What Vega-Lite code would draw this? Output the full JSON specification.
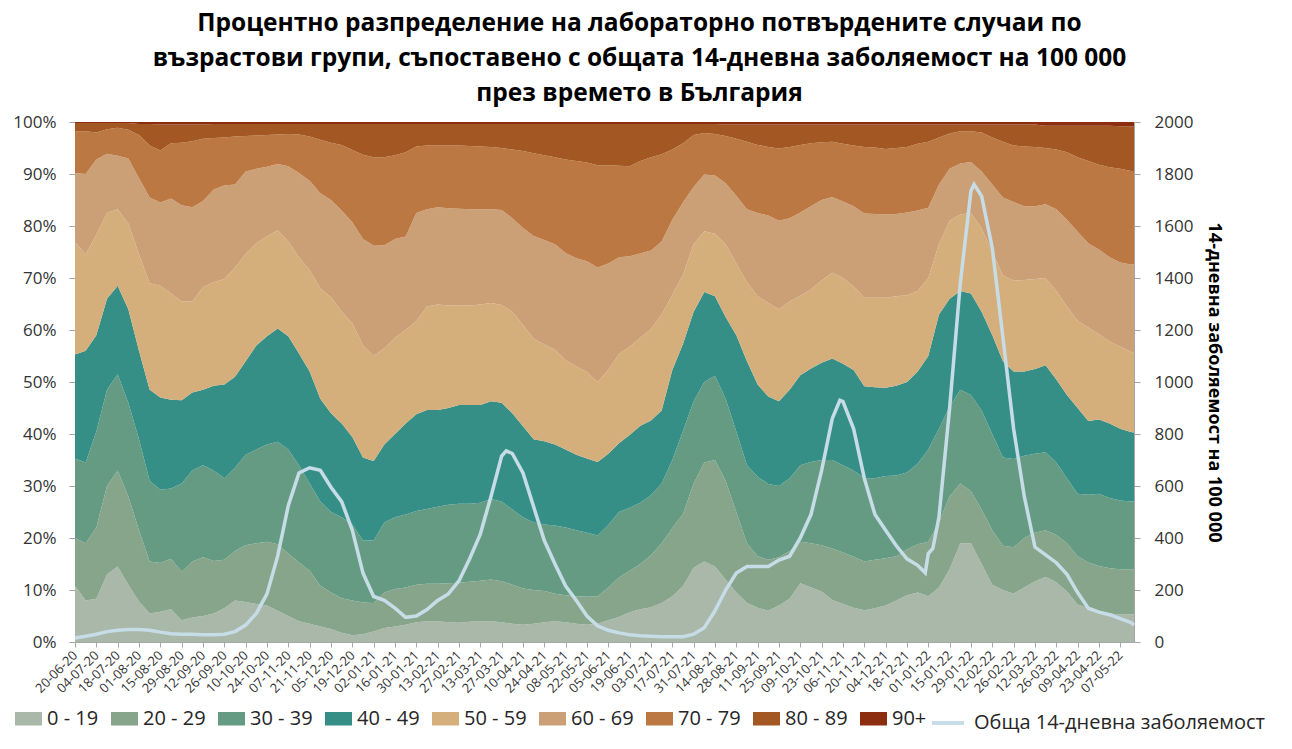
{
  "$schema": "https://vega.github.io/schema/vega-lite/v6.json",
  "width": 1059,
  "height": 520,
  "autosize": {"type": "none"},
  "padding": {"left": 75, "top": 122, "right": 158, "bottom": 107},
  "background": "white",
  "title": {
    "text": ["Процентно разпределение на лабораторно потвърдените случаи по", "възрастови групи, съпоставено с общата 14-дневна заболяемост на 100 000", "през времето в България"],
    "font": "Open Sans",
    "fontSize": 24.5,
    "fontWeight": "bold",
    "color": "#000000",
    "lineHeight": 35,
    "anchor": "middle",
    "frame": "group",
    "dx": 35,
    "offset": 7
  },
  "datasets": {
    "ages": [
      {"d":"2020-06-20","0 - 19":10.8,"20 - 29":9.2,"30 - 39":15.3,"40 - 49":20,"50 - 59":21.6,"60 - 69":13.3,"70 - 79":8,"80 - 89":1.6,"90+":0.2},
      {"d":"2020-06-27","0 - 19":8,"20 - 29":11,"30 - 39":15.5,"40 - 49":21.5,"50 - 59":18.5,"60 - 69":15.5,"70 - 79":8.2,"80 - 89":1.6,"90+":0.2},
      {"d":"2020-07-04","0 - 19":8.3,"20 - 29":13.7,"30 - 39":18.5,"40 - 49":18.5,"50 - 59":19.3,"60 - 69":14.5,"70 - 79":5.2,"80 - 89":1.8,"90+":0.2},
      {"d":"2020-07-11","0 - 19":13,"20 - 29":17,"30 - 39":18.5,"40 - 49":17.5,"50 - 59":16.5,"60 - 69":11.4,"70 - 79":4.7,"80 - 89":1.2,"90+":0.2},
      {"d":"2020-07-18","0 - 19":14.5,"20 - 29":18.5,"30 - 39":18.5,"40 - 49":17,"50 - 59":14.7,"60 - 69":10.3,"70 - 79":5.4,"80 - 89":0.9,"90+":0.2},
      {"d":"2020-07-25","0 - 19":11,"20 - 29":17,"30 - 39":18,"40 - 49":18,"50 - 59":16.5,"60 - 69":12.5,"70 - 79":5.5,"80 - 89":1.3,"90+":0.2},
      {"d":"2020-08-01","0 - 19":7.8,"20 - 29":13.7,"30 - 39":17.5,"40 - 49":17,"50 - 59":18.5,"60 - 69":14.7,"70 - 79":8.3,"80 - 89":2.1,"90+":0.4},
      {"d":"2020-08-08","0 - 19":5.5,"20 - 29":10,"30 - 39":15.5,"40 - 49":17.5,"50 - 59":20.5,"60 - 69":16.5,"70 - 79":10,"80 - 89":4.1,"90+":0.4},
      {"d":"2020-08-15","0 - 19":5.8,"20 - 29":9.4,"30 - 39":14.1,"40 - 49":17.7,"50 - 59":21.5,"60 - 69":16,"70 - 79":10,"80 - 89":5,"90+":0.5},
      {"d":"2020-08-22","0 - 19":6.3,"20 - 29":9.7,"30 - 39":13.5,"40 - 49":17.1,"50 - 59":20.4,"60 - 69":18.3,"70 - 79":10.6,"80 - 89":3.6,"90+":0.5},
      {"d":"2020-08-29","0 - 19":4.2,"20 - 29":9.3,"30 - 39":17,"40 - 49":16,"50 - 59":19,"60 - 69":18.5,"70 - 79":12,"80 - 89":3.5,"90+":0.5},
      {"d":"2020-09-05","0 - 19":4.7,"20 - 29":10.8,"30 - 39":17.5,"40 - 49":15,"50 - 59":17.5,"60 - 69":18.1,"70 - 79":12.7,"80 - 89":3.2,"90+":0.5},
      {"d":"2020-09-12","0 - 19":5,"20 - 29":11.3,"30 - 39":17.7,"40 - 49":14.5,"50 - 59":19.7,"60 - 69":16.6,"70 - 79":12,"80 - 89":2.7,"90+":0.5},
      {"d":"2020-09-19","0 - 19":5.5,"20 - 29":10.1,"30 - 39":17.4,"40 - 49":16.3,"50 - 59":19.9,"60 - 69":17.8,"70 - 79":9.9,"80 - 89":2.7,"90+":0.4},
      {"d":"2020-09-26","0 - 19":6.5,"20 - 29":9.3,"30 - 39":15.7,"40 - 49":18,"50 - 59":20.3,"60 - 69":18,"70 - 79":9.2,"80 - 89":2.6,"90+":0.4},
      {"d":"2020-10-03","0 - 19":8,"20 - 29":9.5,"30 - 39":16,"40 - 49":17.5,"50 - 59":21,"60 - 69":16,"70 - 79":9.2,"80 - 89":2.4,"90+":0.4},
      {"d":"2020-10-10","0 - 19":7.7,"20 - 29":10.9,"30 - 39":17.4,"40 - 49":18,"50 - 59":20.6,"60 - 69":15.9,"70 - 79":6.8,"80 - 89":2.3,"90+":0.4},
      {"d":"2020-10-17","0 - 19":7.3,"20 - 29":11.7,"30 - 39":18,"40 - 49":20,"50 - 59":19.7,"60 - 69":14.3,"70 - 79":6.4,"80 - 89":2.2,"90+":0.4},
      {"d":"2020-10-24","0 - 19":7,"20 - 29":12.3,"30 - 39":18.7,"40 - 49":20.8,"50 - 59":19.2,"60 - 69":13.4,"70 - 79":6.1,"80 - 89":2.1,"90+":0.4},
      {"d":"2020-10-31","0 - 19":6,"20 - 29":12.8,"30 - 39":19.7,"40 - 49":21.8,"50 - 59":18.9,"60 - 69":12.7,"70 - 79":5.7,"80 - 89":2,"90+":0.4},
      {"d":"2020-11-07","0 - 19":5,"20 - 29":12,"30 - 39":20,"40 - 49":21.8,"50 - 59":18.2,"60 - 69":14.5,"70 - 79":6.2,"80 - 89":1.9,"90+":0.4},
      {"d":"2020-11-14","0 - 19":4,"20 - 29":11.3,"30 - 39":18.7,"40 - 49":21.5,"50 - 59":18.5,"60 - 69":16.2,"70 - 79":7.4,"80 - 89":2,"90+":0.4},
      {"d":"2020-11-21","0 - 19":3.5,"20 - 29":10.2,"30 - 39":16.8,"40 - 49":21.5,"50 - 59":19.5,"60 - 69":17.2,"70 - 79":8.5,"80 - 89":2.4,"90+":0.4},
      {"d":"2020-11-28","0 - 19":3,"20 - 29":7.8,"30 - 39":16.2,"40 - 49":19.8,"50 - 59":21.2,"60 - 69":18.3,"70 - 79":10.3,"80 - 89":3,"90+":0.4},
      {"d":"2020-12-05","0 - 19":2.5,"20 - 29":7,"30 - 39":15.5,"40 - 49":19,"50 - 59":22.3,"60 - 69":18.7,"70 - 79":11,"80 - 89":3.6,"90+":0.4},
      {"d":"2020-12-12","0 - 19":1.8,"20 - 29":6.6,"30 - 39":15.6,"40 - 49":18,"50 - 59":21.5,"60 - 69":19.5,"70 - 79":12.6,"80 - 89":4,"90+":0.4},
      {"d":"2020-12-19","0 - 19":1.3,"20 - 29":6.7,"30 - 39":14.6,"40 - 49":16.8,"50 - 59":21.9,"60 - 69":19.4,"70 - 79":13.9,"80 - 89":5,"90+":0.4},
      {"d":"2020-12-26","0 - 19":1.5,"20 - 29":6.1,"30 - 39":11.9,"40 - 49":16,"50 - 59":21.5,"60 - 69":20.5,"70 - 79":16.2,"80 - 89":5.9,"90+":0.4},
      {"d":"2021-01-02","0 - 19":2,"20 - 29":5.5,"30 - 39":12,"40 - 49":15.3,"50 - 59":20.2,"60 - 69":21.2,"70 - 79":17,"80 - 89":6.4,"90+":0.4},
      {"d":"2021-01-09","0 - 19":2.7,"20 - 29":6.8,"30 - 39":13.5,"40 - 49":15,"50 - 59":18.5,"60 - 69":19.8,"70 - 79":16.9,"80 - 89":6.4,"90+":0.4},
      {"d":"2021-01-16","0 - 19":3,"20 - 29":7.2,"30 - 39":13.8,"40 - 49":16,"50 - 59":18.5,"60 - 69":19,"70 - 79":16.1,"80 - 89":6,"90+":0.4},
      {"d":"2021-01-23","0 - 19":3.3,"20 - 29":7.2,"30 - 39":14,"40 - 49":17.5,"50 - 59":18,"60 - 69":18,"70 - 79":16.2,"80 - 89":5.4,"90+":0.4},
      {"d":"2021-01-30","0 - 19":3.8,"20 - 29":7.2,"30 - 39":14.2,"40 - 49":18.6,"50 - 59":17.9,"60 - 69":20.8,"70 - 79":12.8,"80 - 89":4.3,"90+":0.4},
      {"d":"2021-02-06","0 - 19":4,"20 - 29":7.2,"30 - 39":14.4,"40 - 49":19,"50 - 59":19.9,"60 - 69":18.7,"70 - 79":12.3,"80 - 89":4.1,"90+":0.4},
      {"d":"2021-02-13","0 - 19":4,"20 - 29":7.2,"30 - 39":14.8,"40 - 49":18.6,"50 - 59":20.3,"60 - 69":18.7,"70 - 79":11.9,"80 - 89":4.1,"90+":0.4},
      {"d":"2021-02-20","0 - 19":3.8,"20 - 29":7.5,"30 - 39":15.1,"40 - 49":18.6,"50 - 59":19.7,"60 - 69":18.7,"70 - 79":12.1,"80 - 89":4.1,"90+":0.4},
      {"d":"2021-02-27","0 - 19":3.7,"20 - 29":7.7,"30 - 39":15.2,"40 - 49":19,"50 - 59":19.1,"60 - 69":18.6,"70 - 79":12.2,"80 - 89":4.1,"90+":0.4},
      {"d":"2021-03-06","0 - 19":3.9,"20 - 29":7.7,"30 - 39":15,"40 - 49":19,"50 - 59":19.1,"60 - 69":18.5,"70 - 79":12.2,"80 - 89":4.2,"90+":0.4},
      {"d":"2021-03-13","0 - 19":4,"20 - 29":7.8,"30 - 39":15,"40 - 49":18.8,"50 - 59":19.3,"60 - 69":18.3,"70 - 79":12.1,"80 - 89":4.3,"90+":0.4},
      {"d":"2021-03-20","0 - 19":4,"20 - 29":8,"30 - 39":15.5,"40 - 49":18.8,"50 - 59":18.9,"60 - 69":18,"70 - 79":12,"80 - 89":4.4,"90+":0.4},
      {"d":"2021-03-27","0 - 19":3.8,"20 - 29":7.9,"30 - 39":15.3,"40 - 49":19,"50 - 59":18.8,"60 - 69":18.3,"70 - 79":11.9,"80 - 89":4.6,"90+":0.4},
      {"d":"2021-04-03","0 - 19":3.5,"20 - 29":7.5,"30 - 39":14.5,"40 - 49":18.5,"50 - 59":19.5,"60 - 69":18,"70 - 79":13.2,"80 - 89":4.9,"90+":0.4},
      {"d":"2021-04-10","0 - 19":3.3,"20 - 29":7,"30 - 39":13.7,"40 - 49":17.5,"50 - 59":19.5,"60 - 69":18.6,"70 - 79":14.8,"80 - 89":5.2,"90+":0.4},
      {"d":"2021-04-17","0 - 19":3.5,"20 - 29":6.5,"30 - 39":13,"40 - 49":16,"50 - 59":19.3,"60 - 69":19.8,"70 - 79":15.9,"80 - 89":5.6,"90+":0.4},
      {"d":"2021-04-24","0 - 19":3.8,"20 - 29":6,"30 - 39":12.8,"40 - 49":16,"50 - 59":18.6,"60 - 69":20.1,"70 - 79":16.3,"80 - 89":6,"90+":0.4},
      {"d":"2021-05-01","0 - 19":4,"20 - 29":5.3,"30 - 39":13.1,"40 - 49":15.6,"50 - 59":18.2,"60 - 69":20.3,"70 - 79":16.7,"80 - 89":6.4,"90+":0.4},
      {"d":"2021-05-08","0 - 19":3.8,"20 - 29":5.2,"30 - 39":13,"40 - 49":15,"50 - 59":17.2,"60 - 69":20.6,"70 - 79":18,"80 - 89":6.8,"90+":0.4},
      {"d":"2021-05-15","0 - 19":3.5,"20 - 29":5.3,"30 - 39":12.7,"40 - 49":14.5,"50 - 59":17,"60 - 69":20.8,"70 - 79":18.7,"80 - 89":7.1,"90+":0.4},
      {"d":"2021-05-22","0 - 19":3.3,"20 - 29":5.4,"30 - 39":12.3,"40 - 49":14.3,"50 - 59":16.6,"60 - 69":21.3,"70 - 79":19,"80 - 89":7.4,"90+":0.4},
      {"d":"2021-05-29","0 - 19":3.5,"20 - 29":5.3,"30 - 39":11.7,"40 - 49":14.1,"50 - 59":15.4,"60 - 69":22,"70 - 79":19.7,"80 - 89":7.9,"90+":0.4},
      {"d":"2021-06-05","0 - 19":4.2,"20 - 29":6.3,"30 - 39":12,"40 - 49":13.7,"50 - 59":16.1,"60 - 69":20.5,"70 - 79":18.9,"80 - 89":7.9,"90+":0.4},
      {"d":"2021-06-12","0 - 19":4.8,"20 - 29":7.6,"30 - 39":12.6,"40 - 49":13.2,"50 - 59":17.2,"60 - 69":18.6,"70 - 79":17.6,"80 - 89":8,"90+":0.4},
      {"d":"2021-06-19","0 - 19":5.7,"20 - 29":8,"30 - 39":12.1,"40 - 49":14,"50 - 59":17,"60 - 69":17.4,"70 - 79":17.3,"80 - 89":8.1,"90+":0.4},
      {"d":"2021-06-26","0 - 19":6.3,"20 - 29":8.7,"30 - 39":11.8,"40 - 49":14.8,"50 - 59":16.9,"60 - 69":16.2,"70 - 79":17.8,"80 - 89":7.1,"90+":0.4},
      {"d":"2021-07-03","0 - 19":6.7,"20 - 29":10,"30 - 39":11.5,"40 - 49":14.4,"50 - 59":17.6,"60 - 69":15.1,"70 - 79":17.9,"80 - 89":6.4,"90+":0.4},
      {"d":"2021-07-10","0 - 19":7.5,"20 - 29":11.5,"30 - 39":11.5,"40 - 49":14,"50 - 59":18.5,"60 - 69":14,"70 - 79":16.8,"80 - 89":5.8,"90+":0.4},
      {"d":"2021-07-17","0 - 19":8.8,"20 - 29":13.1,"30 - 39":13.1,"40 - 49":17.3,"50 - 59":14.5,"60 - 69":14.4,"70 - 79":13.5,"80 - 89":4.9,"90+":0.4},
      {"d":"2021-07-24","0 - 19":10.7,"20 - 29":13.9,"30 - 39":16,"40 - 49":16.7,"50 - 59":13.3,"60 - 69":13.9,"70 - 79":11.4,"80 - 89":3.7,"90+":0.4},
      {"d":"2021-07-31","0 - 19":14.3,"20 - 29":16.2,"30 - 39":15.8,"40 - 49":17.2,"50 - 59":13,"60 - 69":11,"70 - 79":10,"80 - 89":2.1,"90+":0.4},
      {"d":"2021-08-07","0 - 19":15.5,"20 - 29":19,"30 - 39":15.5,"40 - 49":17.3,"50 - 59":11.7,"60 - 69":10.9,"70 - 79":8,"80 - 89":1.7,"90+":0.4},
      {"d":"2021-08-14","0 - 19":14.5,"20 - 29":20.5,"30 - 39":16.2,"40 - 49":15.3,"50 - 59":12,"60 - 69":11.2,"70 - 79":8,"80 - 89":1.9,"90+":0.4},
      {"d":"2021-08-21","0 - 19":12,"20 - 29":19,"30 - 39":15.8,"40 - 49":15.7,"50 - 59":14,"60 - 69":11.7,"70 - 79":9.1,"80 - 89":2.2,"90+":0.5},
      {"d":"2021-08-28","0 - 19":9.5,"20 - 29":15.5,"30 - 39":15.5,"40 - 49":18.5,"50 - 59":13.8,"60 - 69":13,"70 - 79":11,"80 - 89":2.7,"90+":0.5},
      {"d":"2021-09-04","0 - 19":7.5,"20 - 29":11.5,"30 - 39":15,"40 - 49":20,"50 - 59":15.2,"60 - 69":14,"70 - 79":13,"80 - 89":3.3,"90+":0.5},
      {"d":"2021-09-11","0 - 19":6.6,"20 - 29":9.9,"30 - 39":15.3,"40 - 49":17.7,"50 - 59":17,"60 - 69":16,"70 - 79":13.1,"80 - 89":3.9,"90+":0.5},
      {"d":"2021-09-18","0 - 19":6,"20 - 29":9.8,"30 - 39":14.6,"40 - 49":16.8,"50 - 59":18,"60 - 69":16.8,"70 - 79":13.2,"80 - 89":4.3,"90+":0.5},
      {"d":"2021-09-25","0 - 19":7,"20 - 29":9.3,"30 - 39":13.7,"40 - 49":16.3,"50 - 59":17.7,"60 - 69":17,"70 - 79":13.9,"80 - 89":4.6,"90+":0.5},
      {"d":"2021-10-02","0 - 19":8.3,"20 - 29":9.2,"30 - 39":14,"40 - 49":17,"50 - 59":17,"60 - 69":16,"70 - 79":13.7,"80 - 89":4.3,"90+":0.5},
      {"d":"2021-10-09","0 - 19":11.3,"20 - 29":8,"30 - 39":14.7,"40 - 49":17.3,"50 - 59":15.3,"60 - 69":16,"70 - 79":13,"80 - 89":3.9,"90+":0.5},
      {"d":"2021-10-16","0 - 19":10.5,"20 - 29":8.5,"30 - 39":15.6,"40 - 49":18,"50 - 59":15.2,"60 - 69":16,"70 - 79":12.1,"80 - 89":3.6,"90+":0.5},
      {"d":"2021-10-23","0 - 19":9.7,"20 - 29":8.9,"30 - 39":16.4,"40 - 49":18.7,"50 - 59":15.8,"60 - 69":15.5,"70 - 79":11.1,"80 - 89":3.4,"90+":0.5},
      {"d":"2021-10-30","0 - 19":8.1,"20 - 29":9.9,"30 - 39":17,"40 - 49":19.5,"50 - 59":16.5,"60 - 69":14.6,"70 - 79":10.6,"80 - 89":3.3,"90+":0.5},
      {"d":"2021-11-06","0 - 19":7.3,"20 - 29":9.9,"30 - 39":16.8,"40 - 49":19.5,"50 - 59":16.5,"60 - 69":14.7,"70 - 79":11.1,"80 - 89":3.7,"90+":0.5},
      {"d":"2021-11-13","0 - 19":6.6,"20 - 29":9.8,"30 - 39":16.6,"40 - 49":19.3,"50 - 59":16.1,"60 - 69":15.4,"70 - 79":11.7,"80 - 89":4,"90+":0.5},
      {"d":"2021-11-20","0 - 19":6.1,"20 - 29":9.4,"30 - 39":16,"40 - 49":17.7,"50 - 59":17,"60 - 69":16.2,"70 - 79":12.8,"80 - 89":4.3,"90+":0.5},
      {"d":"2021-11-27","0 - 19":6.5,"20 - 29":9.3,"30 - 39":15.7,"40 - 49":17.5,"50 - 59":17.2,"60 - 69":16.1,"70 - 79":12.8,"80 - 89":4.4,"90+":0.5},
      {"d":"2021-12-04","0 - 19":7,"20 - 29":9.1,"30 - 39":15.8,"40 - 49":17,"50 - 59":17.3,"60 - 69":16,"70 - 79":12.6,"80 - 89":4.7,"90+":0.5},
      {"d":"2021-12-11","0 - 19":8,"20 - 29":8.5,"30 - 39":15.5,"40 - 49":17.3,"50 - 59":17.2,"60 - 69":15.8,"70 - 79":12.7,"80 - 89":4.5,"90+":0.5},
      {"d":"2021-12-18","0 - 19":9,"20 - 29":8.8,"30 - 39":14.8,"40 - 49":17.4,"50 - 59":16.7,"60 - 69":15.9,"70 - 79":12.6,"80 - 89":4.3,"90+":0.5},
      {"d":"2021-12-25","0 - 19":9.5,"20 - 29":9.3,"30 - 39":15.5,"40 - 49":17.7,"50 - 59":15.5,"60 - 69":15.5,"70 - 79":12.8,"80 - 89":3.7,"90+":0.5},
      {"d":"2022-01-01","0 - 19":8.8,"20 - 29":10.5,"30 - 39":17.7,"40 - 49":18,"50 - 59":15,"60 - 69":13.5,"70 - 79":12.7,"80 - 89":3.3,"90+":0.5},
      {"d":"2022-01-08","0 - 19":10.5,"20 - 29":12.5,"30 - 39":18,"40 - 49":22,"50 - 59":13.5,"60 - 69":11.5,"70 - 79":9,"80 - 89":2.5,"90+":0.5},
      {"d":"2022-01-15","0 - 19":14,"20 - 29":14,"30 - 39":17.3,"40 - 49":20.7,"50 - 59":15,"60 - 69":10,"70 - 79":6.8,"80 - 89":1.7,"90+":0.5},
      {"d":"2022-01-22","0 - 19":19,"20 - 29":11.5,"30 - 39":18,"40 - 49":19,"50 - 59":14.7,"60 - 69":9.8,"70 - 79":6.2,"80 - 89":1.3,"90+":0.5},
      {"d":"2022-01-29","0 - 19":19,"20 - 29":10,"30 - 39":18.5,"40 - 49":19.5,"50 - 59":15.5,"60 - 69":9.8,"70 - 79":5.9,"80 - 89":1.3,"90+":0.5},
      {"d":"2022-02-05","0 - 19":15,"20 - 29":10.5,"30 - 39":19,"40 - 49":19,"50 - 59":16,"60 - 69":11,"70 - 79":7.5,"80 - 89":1.5,"90+":0.5},
      {"d":"2022-02-12","0 - 19":11,"20 - 29":10.5,"30 - 39":18.5,"40 - 49":19,"50 - 59":16,"60 - 69":13,"70 - 79":9,"80 - 89":2.5,"90+":0.5},
      {"d":"2022-02-19","0 - 19":10,"20 - 29":8.5,"30 - 39":17,"40 - 49":18.5,"50 - 59":16.5,"60 - 69":15,"70 - 79":10.7,"80 - 89":3.3,"90+":0.5},
      {"d":"2022-02-26","0 - 19":9.3,"20 - 29":8.9,"30 - 39":17,"40 - 49":16.8,"50 - 59":17.5,"60 - 69":15.1,"70 - 79":10.9,"80 - 89":4,"90+":0.5},
      {"d":"2022-03-05","0 - 19":10.5,"20 - 29":9.5,"30 - 39":15.8,"40 - 49":16.2,"50 - 59":17.6,"60 - 69":14.2,"70 - 79":11.5,"80 - 89":4.2,"90+":0.5},
      {"d":"2022-03-12","0 - 19":11.7,"20 - 29":9.3,"30 - 39":15.2,"40 - 49":16.3,"50 - 59":17.3,"60 - 69":14,"70 - 79":11.4,"80 - 89":4.3,"90+":0.5},
      {"d":"2022-03-19","0 - 19":12.5,"20 - 29":9,"30 - 39":15,"40 - 49":16.7,"50 - 59":16.8,"60 - 69":14.2,"70 - 79":10.8,"80 - 89":4.3,"90+":0.7},
      {"d":"2022-03-26","0 - 19":11.5,"20 - 29":9.1,"30 - 39":13.9,"40 - 49":16,"50 - 59":17,"60 - 69":15.7,"70 - 79":11.5,"80 - 89":4.6,"90+":0.7},
      {"d":"2022-04-02","0 - 19":9.7,"20 - 29":9.3,"30 - 39":12.5,"40 - 49":16,"50 - 59":17,"60 - 69":16.7,"70 - 79":13,"80 - 89":5.1,"90+":0.7},
      {"d":"2022-04-09","0 - 19":7.2,"20 - 29":9.3,"30 - 39":12,"40 - 49":16.5,"50 - 59":16.8,"60 - 69":17.1,"70 - 79":14.3,"80 - 89":6.1,"90+":0.7},
      {"d":"2022-04-16","0 - 19":6.5,"20 - 29":8.8,"30 - 39":13,"40 - 49":14.2,"50 - 59":18,"60 - 69":16.2,"70 - 79":15.8,"80 - 89":6.8,"90+":0.7},
      {"d":"2022-04-23","0 - 19":6,"20 - 29":8.6,"30 - 39":13.9,"40 - 49":14.3,"50 - 59":16.4,"60 - 69":16.3,"70 - 79":16.3,"80 - 89":7.5,"90+":0.7},
      {"d":"2022-04-30","0 - 19":5.5,"20 - 29":8.7,"30 - 39":13.5,"40 - 49":14.3,"50 - 59":15.8,"60 - 69":16.2,"70 - 79":17.3,"80 - 89":8,"90+":0.7},
      {"d":"2022-05-07","0 - 19":5.3,"20 - 29":8.7,"30 - 39":13.2,"40 - 49":13.8,"50 - 59":15.8,"60 - 69":16.2,"70 - 79":18,"80 - 89":8.2,"90+":0.8},
      {"d":"2022-05-14","0 - 19":5.3,"20 - 29":8.7,"30 - 39":13,"40 - 49":13.4,"50 - 59":15.4,"60 - 69":16.8,"70 - 79":18,"80 - 89":8.6,"90+":0.8},
      {"d":"2022-05-16","0 - 19":5.3,"20 - 29":8.7,"30 - 39":13,"40 - 49":13.3,"50 - 59":15.3,"60 - 69":17,"70 - 79":17.8,"80 - 89":8.7,"90+":0.9}
    ],
    "incid": [
      {"d":"2020-06-20","inc":15},{"d":"2020-06-27","inc":22},{"d":"2020-07-04","inc":30},{"d":"2020-07-11","inc":40},
      {"d":"2020-07-18","inc":45},{"d":"2020-07-25","inc":48},{"d":"2020-08-01","inc":48},{"d":"2020-08-08","inc":45},
      {"d":"2020-08-15","inc":38},{"d":"2020-08-22","inc":32},{"d":"2020-08-29","inc":30},{"d":"2020-09-05","inc":30},
      {"d":"2020-09-12","inc":28},{"d":"2020-09-19","inc":28},{"d":"2020-09-26","inc":30},{"d":"2020-10-03","inc":40},
      {"d":"2020-10-10","inc":65},{"d":"2020-10-17","inc":110},{"d":"2020-10-24","inc":185},{"d":"2020-10-31","inc":330},
      {"d":"2020-11-07","inc":525},{"d":"2020-11-14","inc":650},{"d":"2020-11-21","inc":670},{"d":"2020-11-28","inc":660},
      {"d":"2020-12-05","inc":595},{"d":"2020-12-12","inc":540},{"d":"2020-12-19","inc":430},{"d":"2020-12-26","inc":265},
      {"d":"2021-01-02","inc":175},{"d":"2021-01-09","inc":160},{"d":"2021-01-16","inc":130},{"d":"2021-01-23","inc":95},
      {"d":"2021-01-30","inc":100},{"d":"2021-02-06","inc":125},{"d":"2021-02-13","inc":160},{"d":"2021-02-20","inc":185},
      {"d":"2021-02-27","inc":235},{"d":"2021-03-06","inc":320},{"d":"2021-03-13","inc":415},{"d":"2021-03-20","inc":560},
      {"d":"2021-03-27","inc":715},{"d":"2021-03-30","inc":735},{"d":"2021-04-03","inc":725},{"d":"2021-04-10","inc":650},
      {"d":"2021-04-17","inc":520},{"d":"2021-04-24","inc":390},{"d":"2021-05-01","inc":300},{"d":"2021-05-08","inc":215},
      {"d":"2021-05-15","inc":160},{"d":"2021-05-22","inc":100},{"d":"2021-05-29","inc":62},{"d":"2021-06-05","inc":45},
      {"d":"2021-06-12","inc":35},{"d":"2021-06-19","inc":28},{"d":"2021-06-26","inc":24},{"d":"2021-07-03","inc":22},
      {"d":"2021-07-10","inc":20},{"d":"2021-07-17","inc":20},{"d":"2021-07-24","inc":20},{"d":"2021-07-31","inc":30},
      {"d":"2021-08-07","inc":55},{"d":"2021-08-14","inc":120},{"d":"2021-08-21","inc":200},{"d":"2021-08-28","inc":265},
      {"d":"2021-09-04","inc":290},{"d":"2021-09-11","inc":290},{"d":"2021-09-18","inc":290},{"d":"2021-09-25","inc":315},
      {"d":"2021-10-02","inc":330},{"d":"2021-10-09","inc":400},{"d":"2021-10-16","inc":490},{"d":"2021-10-23","inc":660},
      {"d":"2021-10-30","inc":860},{"d":"2021-11-04","inc":930},{"d":"2021-11-06","inc":925},{"d":"2021-11-13","inc":820},
      {"d":"2021-11-20","inc":630},{"d":"2021-11-27","inc":490},{"d":"2021-12-04","inc":430},{"d":"2021-12-11","inc":370},
      {"d":"2021-12-18","inc":320},{"d":"2021-12-25","inc":295},{"d":"2021-12-30","inc":266},{"d":"2022-01-01","inc":340},
      {"d":"2022-01-04","inc":360},{"d":"2022-01-08","inc":480},{"d":"2022-01-15","inc":900},{"d":"2022-01-22","inc":1380},
      {"d":"2022-01-29","inc":1735},{"d":"2022-01-31","inc":1760},{"d":"2022-02-05","inc":1715},{"d":"2022-02-12","inc":1515},
      {"d":"2022-02-19","inc":1170},{"d":"2022-02-26","inc":820},{"d":"2022-03-05","inc":560},{"d":"2022-03-12","inc":365},
      {"d":"2022-03-19","inc":335},{"d":"2022-03-26","inc":305},{"d":"2022-04-02","inc":260},{"d":"2022-04-09","inc":190},
      {"d":"2022-04-16","inc":130},{"d":"2022-04-23","inc":115},{"d":"2022-04-30","inc":105},{"d":"2022-05-07","inc":90},
      {"d":"2022-05-14","inc":75},{"d":"2022-05-16","inc":65}
    ]
  },
  "encoding": {
    "x": {
      "field": "d", "type": "temporal",
      "scale": {"type": "utc", "domain": [{"year": 2020, "month": 6, "date": 20, "utc": true}, {"year": 2022, "month": 5, "date": 16, "utc": true}]},
      "axis": {
        "title": null,
        "labelExpr": "utcFormat(datum.value, '%d-%m-%y')",
        "labelAngle": -45,
        "labelAlign": "right",
        "labelBaseline": "middle",
        "labelFontSize": 13,
        "labelOverlap": false,
        "labelSeparation": 0,
        "labelFlush": false,
        "labelBound": false,
        "labelPadding": 6,
        "tickSize": 5,
        "values": [
          {"year":2020,"month":6,"date":20,"utc":true},{"year":2020,"month":7,"date":4,"utc":true},{"year":2020,"month":7,"date":18,"utc":true},
          {"year":2020,"month":8,"date":1,"utc":true},{"year":2020,"month":8,"date":15,"utc":true},{"year":2020,"month":8,"date":29,"utc":true},
          {"year":2020,"month":9,"date":12,"utc":true},{"year":2020,"month":9,"date":26,"utc":true},{"year":2020,"month":10,"date":10,"utc":true},
          {"year":2020,"month":10,"date":24,"utc":true},{"year":2020,"month":11,"date":7,"utc":true},{"year":2020,"month":11,"date":21,"utc":true},
          {"year":2020,"month":12,"date":5,"utc":true},{"year":2020,"month":12,"date":19,"utc":true},
          {"year":2021,"month":1,"date":2,"utc":true},{"year":2021,"month":1,"date":16,"utc":true},{"year":2021,"month":1,"date":30,"utc":true},
          {"year":2021,"month":2,"date":13,"utc":true},{"year":2021,"month":2,"date":27,"utc":true},{"year":2021,"month":3,"date":13,"utc":true},
          {"year":2021,"month":3,"date":27,"utc":true},{"year":2021,"month":4,"date":10,"utc":true},{"year":2021,"month":4,"date":24,"utc":true},
          {"year":2021,"month":5,"date":8,"utc":true},{"year":2021,"month":5,"date":22,"utc":true},{"year":2021,"month":6,"date":5,"utc":true},
          {"year":2021,"month":6,"date":19,"utc":true},{"year":2021,"month":7,"date":3,"utc":true},{"year":2021,"month":7,"date":17,"utc":true},
          {"year":2021,"month":7,"date":31,"utc":true},{"year":2021,"month":8,"date":14,"utc":true},{"year":2021,"month":8,"date":28,"utc":true},
          {"year":2021,"month":9,"date":11,"utc":true},{"year":2021,"month":9,"date":25,"utc":true},{"year":2021,"month":10,"date":9,"utc":true},
          {"year":2021,"month":10,"date":23,"utc":true},{"year":2021,"month":11,"date":6,"utc":true},{"year":2021,"month":11,"date":20,"utc":true},
          {"year":2021,"month":12,"date":4,"utc":true},{"year":2021,"month":12,"date":18,"utc":true},
          {"year":2022,"month":1,"date":1,"utc":true},{"year":2022,"month":1,"date":15,"utc":true},{"year":2022,"month":1,"date":29,"utc":true},
          {"year":2022,"month":2,"date":12,"utc":true},{"year":2022,"month":2,"date":26,"utc":true},{"year":2022,"month":3,"date":12,"utc":true},
          {"year":2022,"month":3,"date":26,"utc":true},{"year":2022,"month":4,"date":9,"utc":true},{"year":2022,"month":4,"date":23,"utc":true},
          {"year":2022,"month":5,"date":7,"utc":true}
        ]
      }
    }
  },
  "layer": [
    {
      "data": {"name": "ages"},
      "transform": [
        {"fold": ["0 - 19", "20 - 29", "30 - 39", "40 - 49", "50 - 59", "60 - 69", "70 - 79", "80 - 89", "90+"], "as": ["group", "pct"]}
      ],
      "mark": {"type": "area", "interpolate": "linear"},
      "encoding": {
        "y": {
          "field": "pct", "type": "quantitative", "stack": "normalize",
          "scale": {"domain": [0, 1]},
          "axis": {
            "title": null,
            "format": ".0%",
            "values": [0, 0.1, 0.2, 0.3, 0.4, 0.5, 0.6, 0.7, 0.8, 0.9, 1],
            "labelFontSize": 17,
            "tickSize": 6,
            "labelPadding": 13
          }
        },
        "color": {
          "field": "group", "type": "nominal",
          "scale": {
            "domain": ["0 - 19", "20 - 29", "30 - 39", "40 - 49", "50 - 59", "60 - 69", "70 - 79", "80 - 89", "90+"],
            "range": ["#A9B8A9", "#86A58B", "#669B83", "#368F87", "#D4AF7C", "#CCA077", "#BB7843", "#A35722", "#8C2D10"]
          },
          "legend": {
            "orient": "none",
            "legendX": -60,
            "legendY": 583,
            "direction": "horizontal",
            "columns": 9,
            "title": null,
            "padding": 0,
            "symbolType": "M-1,-0.5H1V0.5H-1Z",
            "symbolSize": 729,
            "symbolStrokeWidth": 0,
            "labelFontSize": 20,
            "labelOffset": 5,
            "columnPadding": 12,
            "labelColor": "#262626"
          }
        },
        "order": {"field": "group", "sort": "ascending"}
      }
    },
    {
      "data": {"name": "incid"},
      "mark": {"type": "line", "strokeWidth": 3.5, "interpolate": "linear"},
      "encoding": {
        "y": {
          "field": "inc", "type": "quantitative",
          "scale": {"domain": [0, 2000]},
          "axis": {
            "orient": "right",
            "values": [0, 200, 400, 600, 800, 1000, 1200, 1400, 1600, 1800, 2000],
            "format": "d",
            "labelFontSize": 17,
            "tickSize": 6,
            "labelPadding": 14,
            "title": "14-дневна заболяемост на 100 000",
            "titleFontSize": 18,
            "titleFontWeight": "bold",
            "titleColor": "#000000",
            "titlePadding": 12
          }
        },
        "stroke": {
          "datum": "Обща 14-дневна заболяемост", "type": "nominal",
          "scale": {"range": ["#C6DDE7"]},
          "legend": {
            "orient": "none",
            "legendX": 855,
            "legendY": 583,
            "title": null,
            "padding": 0,
            "symbolType": "stroke",
            "symbolSize": 1024,
            "symbolStrokeWidth": 4,
            "labelFontSize": 20,
            "labelOffset": 8,
            "labelLimit": 500,
            "labelColor": "#262626"
          }
        }
      }
    }
  ],
  "resolve": {"scale": {"y": "independent"}},
  "config": {
    "view": {"stroke": null},
    "font": "Open Sans",
    "axis": {
      "grid": false,
      "labelFont": "Open Sans",
      "labelColor": "#333333",
      "domainColor": "#A6A6A6",
      "tickColor": "#A6A6A6",
      "titleFont": "Open Sans"
    },
    "axisX": {"labelOverlap": false},
    "legend": {"labelFont": "Open Sans"}
  }
}
